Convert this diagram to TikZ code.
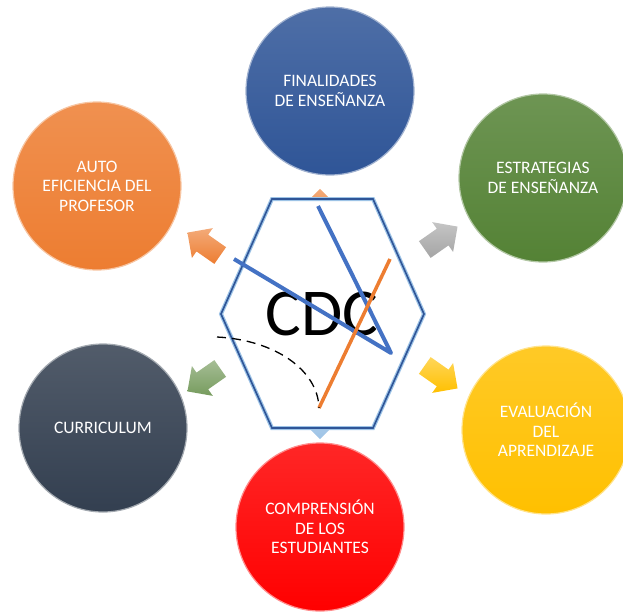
\documentclass[tikz,border=0pt]{standalone}
\usepackage{fontspec}
\setmainfont{Carlito}
\usetikzlibrary{shapes.arrows}

\definecolor{cblue}{HTML}{2F5597}
\definecolor{cgreen}{HTML}{548235}
\definecolor{cyellow}{HTML}{FFC000}
\definecolor{cred}{HTML}{FF0000}
\definecolor{cdark}{HTML}{333F50}
\definecolor{corange}{HTML}{ED7D31}
\definecolor{cgray}{HTML}{A5A5A5}
\definecolor{lineblue}{HTML}{4472C4}
\definecolor{lightblue}{HTML}{9DC3E6}

\begin{document}
\begin{tikzpicture}[x=1pt,y=-1pt,
  ball/.style={circle,minimum size=168pt,inner sep=0pt,align=center,text=white,
    top color=#1!85!white,bottom color=#1,draw=#1!45!white,line width=1.2pt,
    font=\fontsize{17.5}{19.5}\selectfont},
  blockarrow/.style={single arrow,minimum height=40pt,minimum width=36pt,
    single arrow head extend=8pt,inner sep=10pt,top color=#1!65!white,bottom color=#1,draw=none}]
 \useasboundingbox (0,0) rectangle (623,613);
 % arrows behind the hexagon
 \node[blockarrow=corange,rotate=145] (a1) at (208,247) {};
 \node[blockarrow=cgray,rotate=35] (a2) at (437,241) {};
 \node[blockarrow=cyellow,rotate=-35] (a3) at (437,374) {};
 \node[blockarrow=cgreen!80!white,rotate=215] (a4) at (208,377) {};
 \node[blockarrow=corange,rotate=90] (a5) at (320,214) {};
 \node[blockarrow=lightblue,rotate=-90] (a6) at (320,414) {};
 % hexagon
 \coordinate (h1) at (272,199); \coordinate (h2) at (373,199); \coordinate (h3) at (424,314);
 \coordinate (h4) at (373,428); \coordinate (h5) at (272,428); \coordinate (h6) at (221,314);
 \draw[lightblue,line width=4pt,fill=white] (h1)--(h2)--(h3)--(h4)--(h5)--(h6)--cycle;
 \draw[cblue,line width=1.6pt] (h1)--(h2)--(h3)--(h4)--(h5)--(h6)--cycle;
 \node[font=\fontsize{67}{70}\selectfont] (cdc) at (322,314) {CDC};
 % strokes over the text
 \coordinate (p1) at (234,259); \coordinate (p2) at (391,353); \coordinate (p3) at (318,206);
 \coordinate (q1) at (390,259); \coordinate (q2) at (319,408); \coordinate (r1) at (217,337);
 \draw[lineblue,line width=4pt,line join=round] (p1)--(p2)--(p3);
 \draw[corange,line width=3.5pt] (q1)--(q2);
 \draw[black,line width=1.3pt,dash pattern=on 9pt off 6pt] (r1) .. controls (275,340) and (318,370) .. (q2);
 % circles
 \node[ball=cblue] (fin) at (330,91) {FINALIDADES\\DE ENSEÑANZA};
 \node[ball=cgreen] (est) at (543,178) {ESTRATEGIAS\\DE ENSEÑANZA};
 \node[ball=cyellow] (eva) at (546,430) {EVALUACIÓN\\DEL\\APRENDIZAJE};
 \node[ball=cred] (com) at (320,527) {COMPRENSIÓN\\DE LOS\\ESTUDIANTES};
 \node[ball=cdark] (cur) at (103,428) {CURRICULUM};
 \node[ball=corange] (aut) at (97,186) {AUTO\\EFICIENCIA DEL\\PROFESOR};
\end{tikzpicture}
\end{document}
